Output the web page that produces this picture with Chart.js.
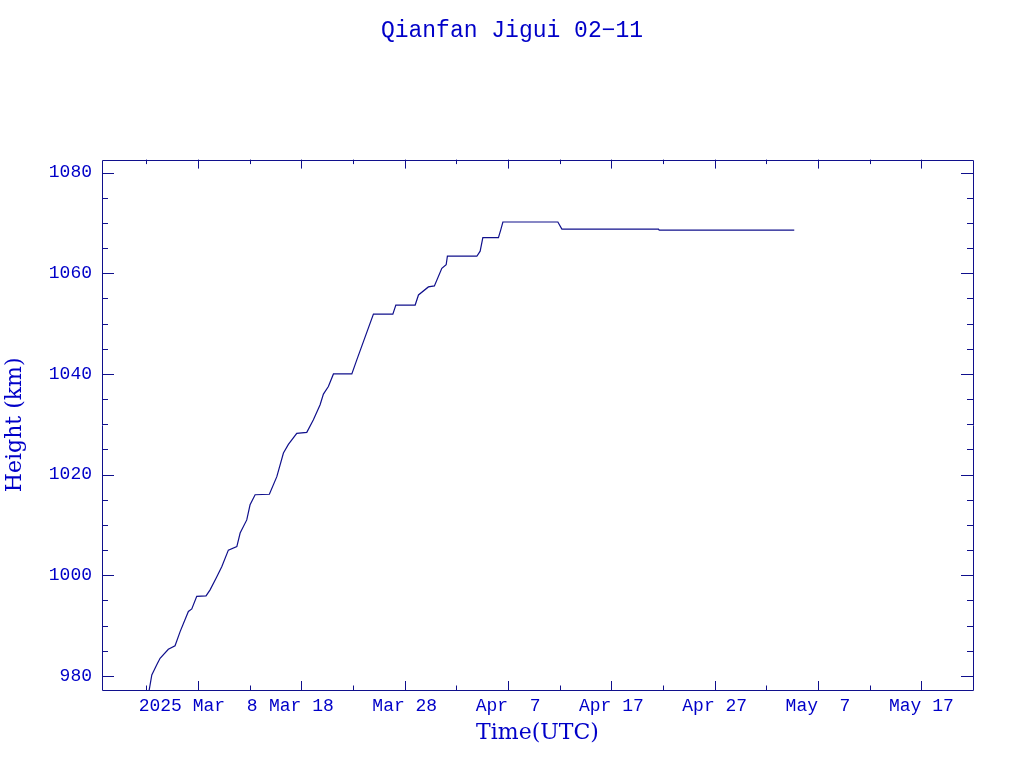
<!DOCTYPE html>
<html>
<head>
<meta charset="utf-8">
<script src="https://cdn.jsdelivr.net/npm/chart.js@4.4.1/dist/chart.umd.min.js"></script>
<style>
  html, body { margin: 0; padding: 0; background: #fff; }
  #wrap { width: 1024px; height: 768px; }
</style>
</head>
<body>
<div id="wrap"><canvas id="c" width="1024" height="768"></canvas></div>
<script>
// day of year 2025 (Jan 1 = 1)
const dayOfYear = [
  62.21, 62.52, 63.00, 63.32, 64.12, 64.77, 65.26, 66.06, 66.39, 66.87,
  67.77, 68.16, 68.74, 69.29, 69.93, 70.75, 71.07, 71.71, 72.03, 72.52,
  73.90, 74.62, 75.26, 75.74, 76.55, 77.52, 78.16, 78.81, 79.13, 79.61,
  80.10, 81.88, 82.36, 83.97, 85.85, 86.14, 88.01, 88.33, 89.29, 89.87,
  90.59, 91.01, 91.13, 93.98, 94.30, 94.56, 96.07, 96.30, 96.50, 101.82,
  102.21, 111.56, 111.63, 124.70
];
const heightKm = [
  976.5, 980.2, 982.2, 983.5, 985.3, 986.0, 988.8, 992.8, 993.3, 995.8,
  995.9, 997.1, 999.4, 1001.7, 1005.0, 1005.7, 1008.4, 1011.0, 1014.0, 1016.0,
  1016.1, 1019.6, 1024.3, 1026.0, 1028.2, 1028.4, 1030.9, 1033.9, 1036.0, 1037.5,
  1040.0, 1040.0, 1042.8, 1051.9, 1051.9, 1053.7, 1053.7, 1055.7, 1057.3, 1057.5,
  1061.0, 1061.7, 1063.4, 1063.4, 1064.4, 1067.1, 1067.1, 1068.7, 1070.2, 1070.2,
  1068.8, 1068.8, 1068.6, 1068.6
];
const xTickDays = [67, 77, 87, 97, 107, 117, 127, 137];
const xTickLabels = ['2025 Mar  8', 'Mar 18', 'Mar 28', 'Apr  7', 'Apr 17', 'Apr 27', 'May  7', 'May 17'];
const yTicks = [980, 1000, 1020, 1040, 1060, 1080];

const lineColor = '#10108c';
const textColor = '#0000c8';
const font = 'Liberation Mono';

// inward ticks on all four sides, like the original plot frame
const frameTicks = {
  id: 'frameTicks',
  afterDraw(chart) {
    const { ctx, chartArea: a, scales } = chart;
    const xs = scales.x, ys = scales.y;
    ctx.save();
    ctx.strokeStyle = lineColor;
    ctx.lineWidth = 1;
    ctx.beginPath();
    ctx.rect(Math.round(a.left) + 0.5, Math.round(a.top) + 0.5,
             Math.round(a.right - a.left), Math.round(a.bottom - a.top));
    for (let d = 62; d <= 141; d += 5) {
      const px = Math.round(xs.getPixelForValue(d)) + 0.5;
      const len = xTickDays.includes(d) ? 9 : 4.5;
      ctx.moveTo(px, a.bottom); ctx.lineTo(px, a.bottom - len);
      ctx.moveTo(px, a.top); ctx.lineTo(px, a.top + len);
    }
    for (let h = 980; h <= 1080; h += 5) {
      const py = Math.round(ys.getPixelForValue(h)) + 0.5;
      const len = yTicks.includes(h) ? 12 : 6;
      ctx.moveTo(a.left, py); ctx.lineTo(a.left + len, py);
      ctx.moveTo(a.right, py); ctx.lineTo(a.right - len, py);
    }
    ctx.stroke();
    ctx.restore();
  }
};

new Chart(document.getElementById('c'), {
  type: 'line',
  data: {
    datasets: [{
      label: 'Height',
      data: dayOfYear.map((d, i) => ({ x: d, y: heightKm[i] })),
      borderColor: lineColor,
      borderWidth: 1.2,
      pointRadius: 0,
      fill: false,
      tension: 0
    }]
  },
  options: {
    responsive: false,
    animation: false,
    layout: { padding: 0 },
    plugins: {
      legend: { display: false },
      tooltip: { enabled: false },
      title: {
        display: true,
        text: 'Qianfan Jigui 02\u221211',
        color: textColor,
        font: { family: font, size: 23, weight: 'normal' },
        padding: { top: 17, bottom: 115 }
      }
    },
    scales: {
      x: {
        type: 'linear',
        min: 57.7,
        max: 142.0,
        grid: { display: false, drawTicks: false, tickLength: 0 },
        border: { display: false },
        afterBuildTicks(scale) { scale.ticks = xTickDays.map(v => ({ value: v })); },
        afterFit(scale) { scale.height = 78; },
        ticks: {
          autoSkip: false,
          maxRotation: 0,
          padding: 5,
          color: textColor,
          font: { family: font, size: 18 },
          callback: (v) => xTickLabels[xTickDays.indexOf(v)]
        },
        title: {
          display: true,
          text: 'Time(UTC)',
          color: textColor,
          font: { family: 'DejaVu Serif', size: 22 },
          padding: { top: 0, bottom: 22 }
        }
      },
      y: {
        type: 'linear',
        min: 977.2,
        max: 1082.6,
        grid: { display: false, drawTicks: false, tickLength: 0 },
        border: { display: false },
        afterBuildTicks(scale) { scale.ticks = yTicks.map(v => ({ value: v })); },
        afterFit(scale) { scale.width = 102; },
        ticks: {
          padding: 10,
          color: textColor,
          font: { family: font, size: 18 },
          callback: (v) => String(v)
        },
        title: {
          display: true,
          text: 'Height (km)',
          color: textColor,
          font: { family: 'DejaVu Serif', size: 22 },
          padding: { top: 2, bottom: 0 }
        }
      },
      // empty right-hand margin so the title centres on the page
      yRight: {
        type: 'linear',
        position: 'right',
        min: 977.2,
        max: 1082.6,
        grid: { display: false, drawTicks: false },
        border: { display: false },
        ticks: { display: false },
        afterFit(scale) { scale.width = 51; }
      }
    }
  },
  plugins: [frameTicks]
});
</script>
</body>
</html>
